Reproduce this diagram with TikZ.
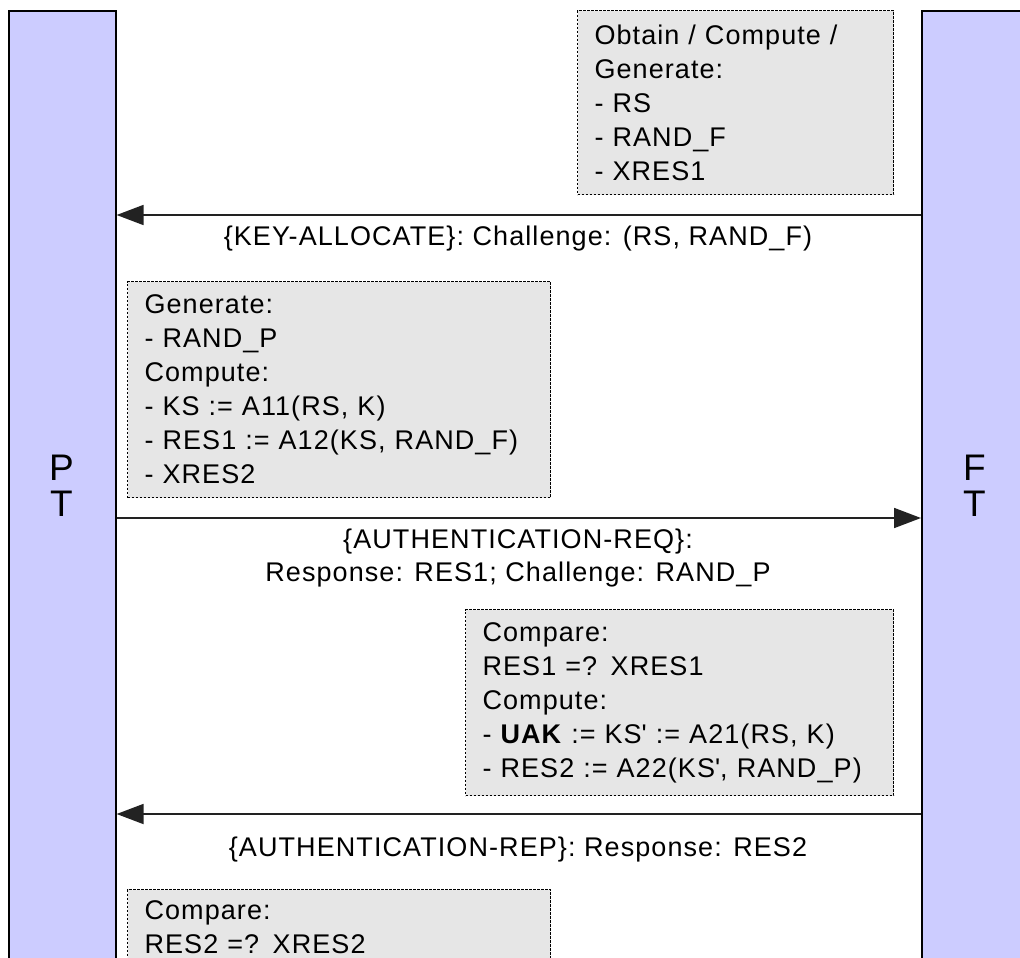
\documentclass[tikz,border=0pt]{standalone}
\usepackage{fontspec}
\setmainfont{Liberation Sans}[LetterSpace=4]
\usetikzlibrary{arrows.meta}
\definecolor{barblue}{HTML}{CCCCFF}
\definecolor{boxgray}{HTML}{E6E6E6}
\definecolor{linegray}{HTML}{222222}
\begin{document}
\begin{tikzpicture}[x=1pt,y=-1pt,
  lifeline/.style={draw=black, line width=1.6pt, fill=barblue, minimum width=107pt,
    minimum height=1000pt, anchor=north west, inner sep=0pt},
  lifetext/.style={align=center, font=\fontsize{37}{36}\selectfont, inner sep=0pt},
  notebox/.style={draw=black, line width=1.1pt, dash pattern=on 2.2pt off 1.8pt,
    fill=boxgray, anchor=north west, align=left, inner xsep=17pt, inner ysep=8pt,
    font=\fontsize{27}{34}\selectfont},
  msg/.style={line width=1.8pt, draw=linegray, -{Triangle[length=27pt,width=20pt]}},
  msglabel/.style={anchor=north, align=center, inner sep=0pt,
    font=\fontsize{27}{33}\selectfont}
]
\useasboundingbox (0,0) rectangle (1020,958);
\clip (0,0) rectangle (1020,958);

% lifelines
\node[lifeline] (PT) at (8,10) {};
\node[lifeline] (FT) at (921,10) {};
\node[lifetext] (PTtext) at (61.5,486) {P\\T};
\node[lifetext] (FTtext) at (974.5,486) {F\\T};

% note boxes
\node[notebox, text width=282pt, minimum height=184pt] (n1) at (577,10)
  {Obtain / Compute /\\Generate:\\- RS\\- RAND\_F\\- XRES1};
\node[notebox, text width=389pt, minimum height=216pt] (n2) at (127,281)
  {Generate:\\- RAND\_P\\Compute:\\- KS := A11(RS, K)\\- RES1 := A12(KS, RAND\_F)\\- XRES2};
\node[notebox, text width=394pt, minimum height=186pt] (n3) at (465,609)
  {Compare:\\RES1 =? XRES1\\Compute:\\- \textbf{UAK} := KS\textquotesingle{} := A21(RS, K)\\- RES2 := A22(KS\textquotesingle, RAND\_P)};
\node[notebox, text width=389pt, minimum height=110pt] (n4) at (127,889)
  {Compare:\\RES2 =? XRES2\\ \rule{0pt}{30pt}};

% messages
\coordinate (y1) at (0,215);
\coordinate (y2) at (0,518);
\coordinate (y3) at (0,814);
\draw[msg] (FT.west |- y1) -- (PT.east |- y1);
\draw[msg] (PT.east |- y2) -- (FT.west |- y2);
\draw[msg] (FT.west |- y3) -- (PT.east |- y3);

\node[msglabel] (l1) at (518,226) {\{KEY-ALLOCATE\}: Challenge: (RS, RAND\_F)};
\node[msglabel] (l2) at (518,529) {\{AUTHENTICATION-REQ\}:\\Response: RES1; Challenge: RAND\_P};
\node[msglabel] (l3) at (518,837) {\{AUTHENTICATION-REP\}: Response: RES2};
\end{tikzpicture}
\end{document}
